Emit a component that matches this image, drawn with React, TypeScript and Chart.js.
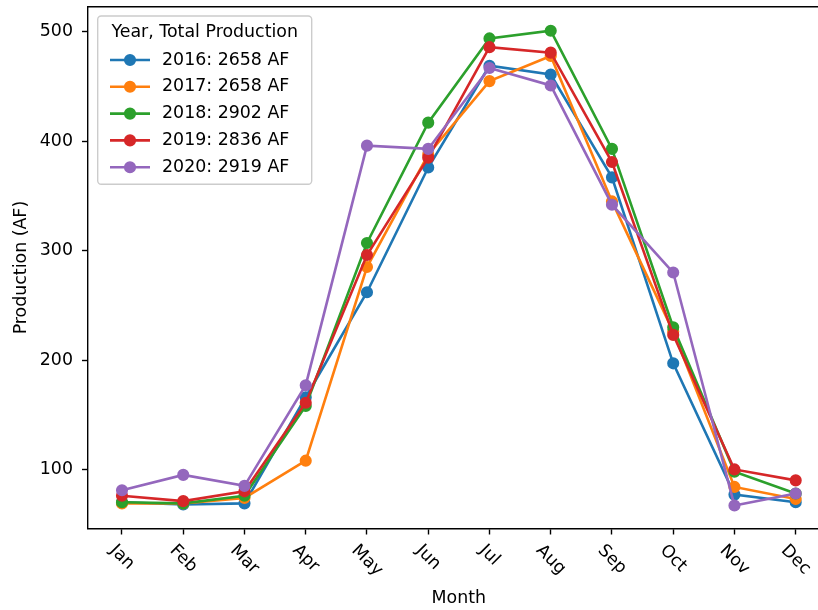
import React, { useEffect, useRef } from 'react';
import { Chart, registerables } from 'chart.js';

Chart.register(...registerables);

const months = ['Jan', 'Feb', 'Mar', 'Apr', 'May', 'Jun', 'Jul', 'Aug', 'Sep', 'Oct', 'Nov', 'Dec'];
const years = ['2016', '2017', '2018', '2019', '2020'];
const totals = [2658, 2658, 2902, 2836, 2919];

const p2016 = [70, 68, 69, 166, 262, 376, 469, 461, 367, 197, 77, 70];
const p2017 = [69, 69, 74, 108, 285, 388, 455, 478, 345, 226, 84, 73];
const p2018 = [70, 69, 76, 158, 307, 417, 494, 501, 393, 230, 98, 78];
const p2019 = [76, 71, 80, 161, 296, 385, 486, 481, 381, 223, 100, 90];
const p2020 = [81, 95, 85, 177, 396, 393, 467, 451, 342, 280, 67, 78];

const yTicks = [100, 200, 300, 400, 500];

const colors = ['#1f77b4', '#ff7f0e', '#2ca02c', '#d62728', '#9467bd'];
const FONT = '"DejaVu Sans", sans-serif';
const FS = 17.4;

export default function App() {
  const ref = useRef<HTMLCanvasElement>(null);

  useEffect(() => {
    if (!ref.current) return;
    const series = [p2016, p2017, p2018, p2019, p2020];
    const labels = years.map((y, i) => `${y}: ${totals[i]} AF`);

    const overlay = {
      id: 'overlay',
      afterDraw(chart: any) {
        const ctx = chart.ctx as CanvasRenderingContext2D;
        const ca = chart.chartArea;
        const xs = chart.scales.x;
        ctx.save();
        // top spine
        ctx.strokeStyle = '#000';
        ctx.lineWidth = 1.4;
        ctx.beginPath();
        ctx.moveTo(ca.left - 0.7, ca.top);
        ctx.lineTo(ca.right, ca.top);
        ctx.stroke();

        // rotated x tick labels
        ctx.font = `${FS}px ${FONT}`;
        ctx.fillStyle = '#000';
        ctx.textAlign = 'center';
        ctx.textBaseline = 'middle';
        const h = FS * 1.17;
        const top = ca.bottom + 12.2;
        months.forEach((m, i) => {
          const w = ctx.measureText(m).width;
          const b = (w + h) * Math.SQRT1_2;
          const x = xs.getPixelForValue(i);
          ctx.save();
          ctx.translate(x, top + b / 2);
          ctx.rotate(Math.PI / 4);
          ctx.fillText(m, 0, 0);
          ctx.restore();
        });

        // x title
        const fullRight = xs.getPixelForValue(11.555);
        ctx.fillText('Month', (ca.left + fullRight) / 2, 598);

        // legend
        const lx = 97.7, ly = 16, lw = 214, lh = 168.3, r = 3.5;
        ctx.beginPath();
        ctx.moveTo(lx + r, ly);
        ctx.lineTo(lx + lw - r, ly);
        ctx.arcTo(lx + lw, ly, lx + lw, ly + r, r);
        ctx.lineTo(lx + lw, ly + lh - r);
        ctx.arcTo(lx + lw, ly + lh, lx + lw - r, ly + lh, r);
        ctx.lineTo(lx + r, ly + lh);
        ctx.arcTo(lx, ly + lh, lx, ly + lh - r, r);
        ctx.lineTo(lx, ly + r);
        ctx.arcTo(lx, ly, lx + r, ly, r);
        ctx.closePath();
        ctx.fillStyle = 'rgba(255,255,255,0.8)';
        ctx.fill();
        ctx.strokeStyle = '#cccccc';
        ctx.lineWidth = 1.4;
        ctx.stroke();

        ctx.fillStyle = '#000';
        ctx.textAlign = 'center';
        ctx.fillText('Year, Total Production', lx + lw / 2, 32.3);
        labels.forEach((lab, i) => {
          const y = 60 + i * 26.8;
          ctx.strokeStyle = colors[i];
          ctx.lineWidth = 2.6;
          ctx.beginPath();
          ctx.moveTo(110, y);
          ctx.lineTo(150, y);
          ctx.stroke();
          ctx.beginPath();
          ctx.arc(130, y, 5.2, 0, Math.PI * 2);
          ctx.fillStyle = colors[i];
          ctx.fill();
          ctx.lineWidth = 1.74;
          ctx.stroke();
          ctx.fillStyle = '#000';
          ctx.textAlign = 'left';
          ctx.fillText(lab, 162, y);
        });
        ctx.restore();
      },
    };

    const chart = new Chart(ref.current, {
      type: 'line',
      data: {
        datasets: series.map((arr, i) => ({
          label: labels[i],
          data: arr.map((v, j) => ({ x: j, y: v })),
          borderColor: colors[i],
          backgroundColor: colors[i],
          borderWidth: 2.6,
          pointRadius: 5.2,
          pointBorderWidth: 1.74,
          pointBackgroundColor: colors[i],
          pointBorderColor: colors[i],
          tension: 0,
          order: -i,
          clip: false as any,
        })),
      },
      options: {
        animation: false,
        responsive: false,
        events: [],
        layout: { autoPadding: false, padding: { top: 6.7, left: 0, right: 0, bottom: 0 } },
        plugins: { legend: { display: false }, tooltip: { enabled: false } },
        scales: {
          x: {
            type: 'linear',
            min: -0.555,
            max: 11.364,
            afterBuildTicks: (s: any) => {
              s.ticks = months.map((_, i) => ({ value: i }));
            },
            afterFit: (s: any) => {
              s.height = 81.5;
              s.paddingLeft = 0;
              s.paddingRight = 0;
              s.paddingTop = 0;
              s.paddingBottom = 0;
            },
            ticks: { display: false },
            grid: {
              display: true,
              drawOnChartArea: false,
              drawTicks: true,
              tickLength: 6,
              tickWidth: 1.4,
              tickColor: '#000',
            },
            border: { display: true, color: '#000', width: 1.4 },
          },
          y: {
            type: 'linear',
            min: 46,
            max: 523,
            afterBuildTicks: (s: any) => {
              s.ticks = yTicks.map((v) => ({ value: v }));
            },
            afterFit: (s: any) => {
              s.width = 88;
              s.paddingLeft = 0;
              s.paddingRight = 0;
              s.paddingTop = 0;
              s.paddingBottom = 0;
            },
            ticks: { font: { family: FONT, size: FS }, color: '#000', padding: 9 },
            grid: {
              display: true,
              drawOnChartArea: false,
              drawTicks: true,
              tickLength: 6,
              tickWidth: 1.4,
              tickColor: '#000',
            },
            border: { display: true, color: '#000', width: 1.4 },
            title: {
              display: true,
              text: 'Production (AF)',
              color: '#000',
              font: { family: FONT, size: FS },
              padding: { top: 11.5, bottom: 0 },
            },
          },
        },
      },
      plugins: [overlay],
    } as any);

    return () => chart.destroy();
  }, []);

  return (
    <div style={{ position: 'fixed', left: 0, top: 0, width: 818, height: 610, background: '#fff' }}>
      <canvas ref={ref} width={818} height={610} style={{ display: 'block' }} />
    </div>
  );
}
